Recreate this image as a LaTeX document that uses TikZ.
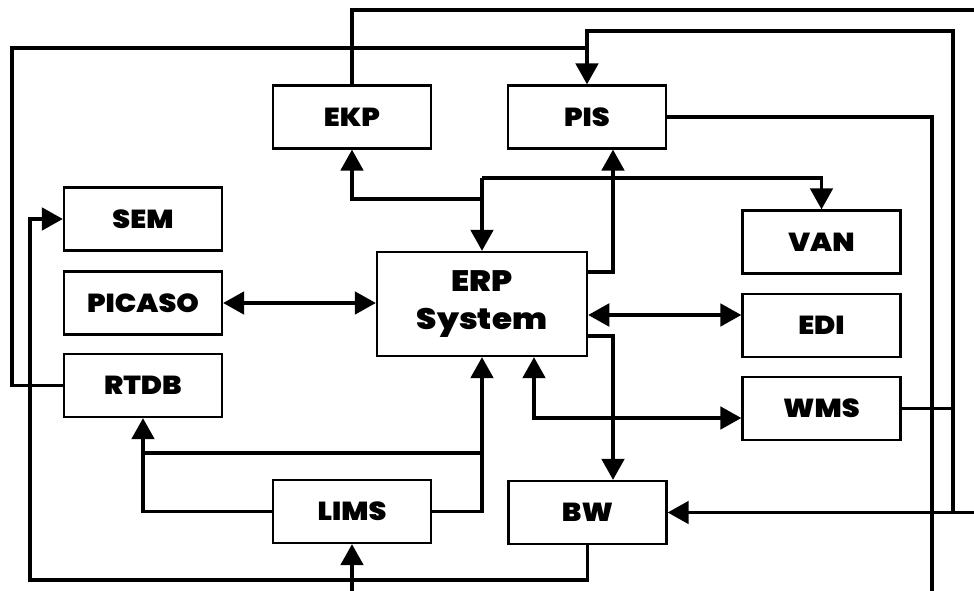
\documentclass[tikz,border=0pt]{standalone}
\usepackage{fontspec}
\setmainfont{Poppins}
\newfontfamily\sysfont{Poppins Black}[FakeStretch=1.1]
\usepackage{tikz}
\usetikzlibrary{arrows.meta,calc}
\tikzset{
    sysbox/.style={rectangle, draw=black, line width=1.6pt, fill=white, minimum width=3.95cm, minimum height=1.575cm, inner sep=0pt, font=\fontsize{18.5}{20}\sysfont},
    erpbox/.style={sysbox, minimum width=5.25cm, minimum height=2.6cm, align=center, font=\fontsize{21}{27.5}\sysfont},
    link/.style={line width=2.6pt, black},
    arr/.style={link, -{Triangle[length=15pt,width=16pt]}},
    dblarr/.style={link, {Triangle[length=15pt,width=16pt]}-{Triangle[length=15pt,width=16pt]}},
}

\begin{document}
\begin{tikzpicture}[x=0.025cm, y=-0.025cm]
    \useasboundingbox (0,0) rectangle (974,591);
    \clip (0,0) rectangle (974,591);

    % systems
    \node[sysbox] (EKP) at (352,117) {EKP};
    \node[sysbox] (PIS) at (587,117) {PIS};
    \node[sysbox] (SEM) at (143,219) {SEM};
    \node[sysbox] (PICASO) at (143,303) {PICASO};
    \node[sysbox] (RTDB) at (143,385.5) {RTDB};
    \node[erpbox] (ERP) at (482,304) {ERP\\System};
    \node[sysbox] (VAN) at (821.5,242) {VAN};
    \node[sysbox] (EDI) at (821.5,325.5) {EDI};
    \node[sysbox] (WMS) at (821.5,408.5) {WMS};
    \node[sysbox] (LIMS) at (352,511.5) {LIMS};
    \node[sysbox] (BW) at (587.5,512.5) {BW};

    % bend points
    \coordinate (top1) at (0,10);
    \coordinate (top2) at (0,31);
    \coordinate (top3) at (0,48);
    \coordinate (erp1) at (0,178);
    \coordinate (erp2) at (0,199);
    \coordinate (erp3) at (0,272);
    \coordinate (edi) at (0,315);
    \coordinate (erp4) at (0,336);
    \coordinate (wms) at (534,418);
    \coordinate (mid) at (0,453);
    \coordinate (bot) at (0,580);
    \coordinate (botE) at (0,600);
    \coordinate (leftA) at (12,0);
    \coordinate (leftB) at (30,0);
    \coordinate (colP) at (613,0);
    \coordinate (colR1) at (932,0);
    \coordinate (colR2) at (953,0);
    \coordinate (farR) at (990,0);

    % ERP system links
    \draw[arr] (ERP.north |- erp1) -- (ERP.north);
    \draw[arr] (ERP.north |- erp1) -| (VAN.north);
    \draw[arr] (ERP.north |- erp2) -| (EKP.south);
    \draw[arr] (ERP.east |- erp3) -| (PIS.south -| colP);
    \draw[arr] (ERP.east |- erp4) -| (BW.north -| colP);
    \draw[dblarr] (PICASO.east) -- (PICASO.east -| ERP.west);
    \draw[dblarr] (ERP.east |- edi) -- (EDI.west |- edi);
    \draw[dblarr] (ERP.south -| wms) |- (WMS.west |- wms);

    % LIMS
    \draw[arr] (LIMS.east) -| (ERP.south);
    \draw[arr] (LIMS.west) -| (RTDB.south);
    \draw[link] (RTDB.south |- mid) -- (ERP.south |- mid);
    \draw[arr] (LIMS.south |- botE) -- (LIMS.south);

    % outer loops
    \draw[arr] (EKP.north) |- (top1 -| farR) |- (BW.east);
    \draw[arr] (RTDB.west) -| (leftA |- top3) -| (PIS.north);
    \draw[link] (PIS.north |- top3) |- (colR2 |- top2) -- (colR2 |- BW.east);
    \draw[link] (WMS.east) -- (WMS.east -| colR2);
    \draw[link] (PIS.east) -| (colR1 |- botE);
    \draw[arr] (BW.south) |- (leftB |- bot) |- (SEM.west);
\end{tikzpicture}
\end{document}
